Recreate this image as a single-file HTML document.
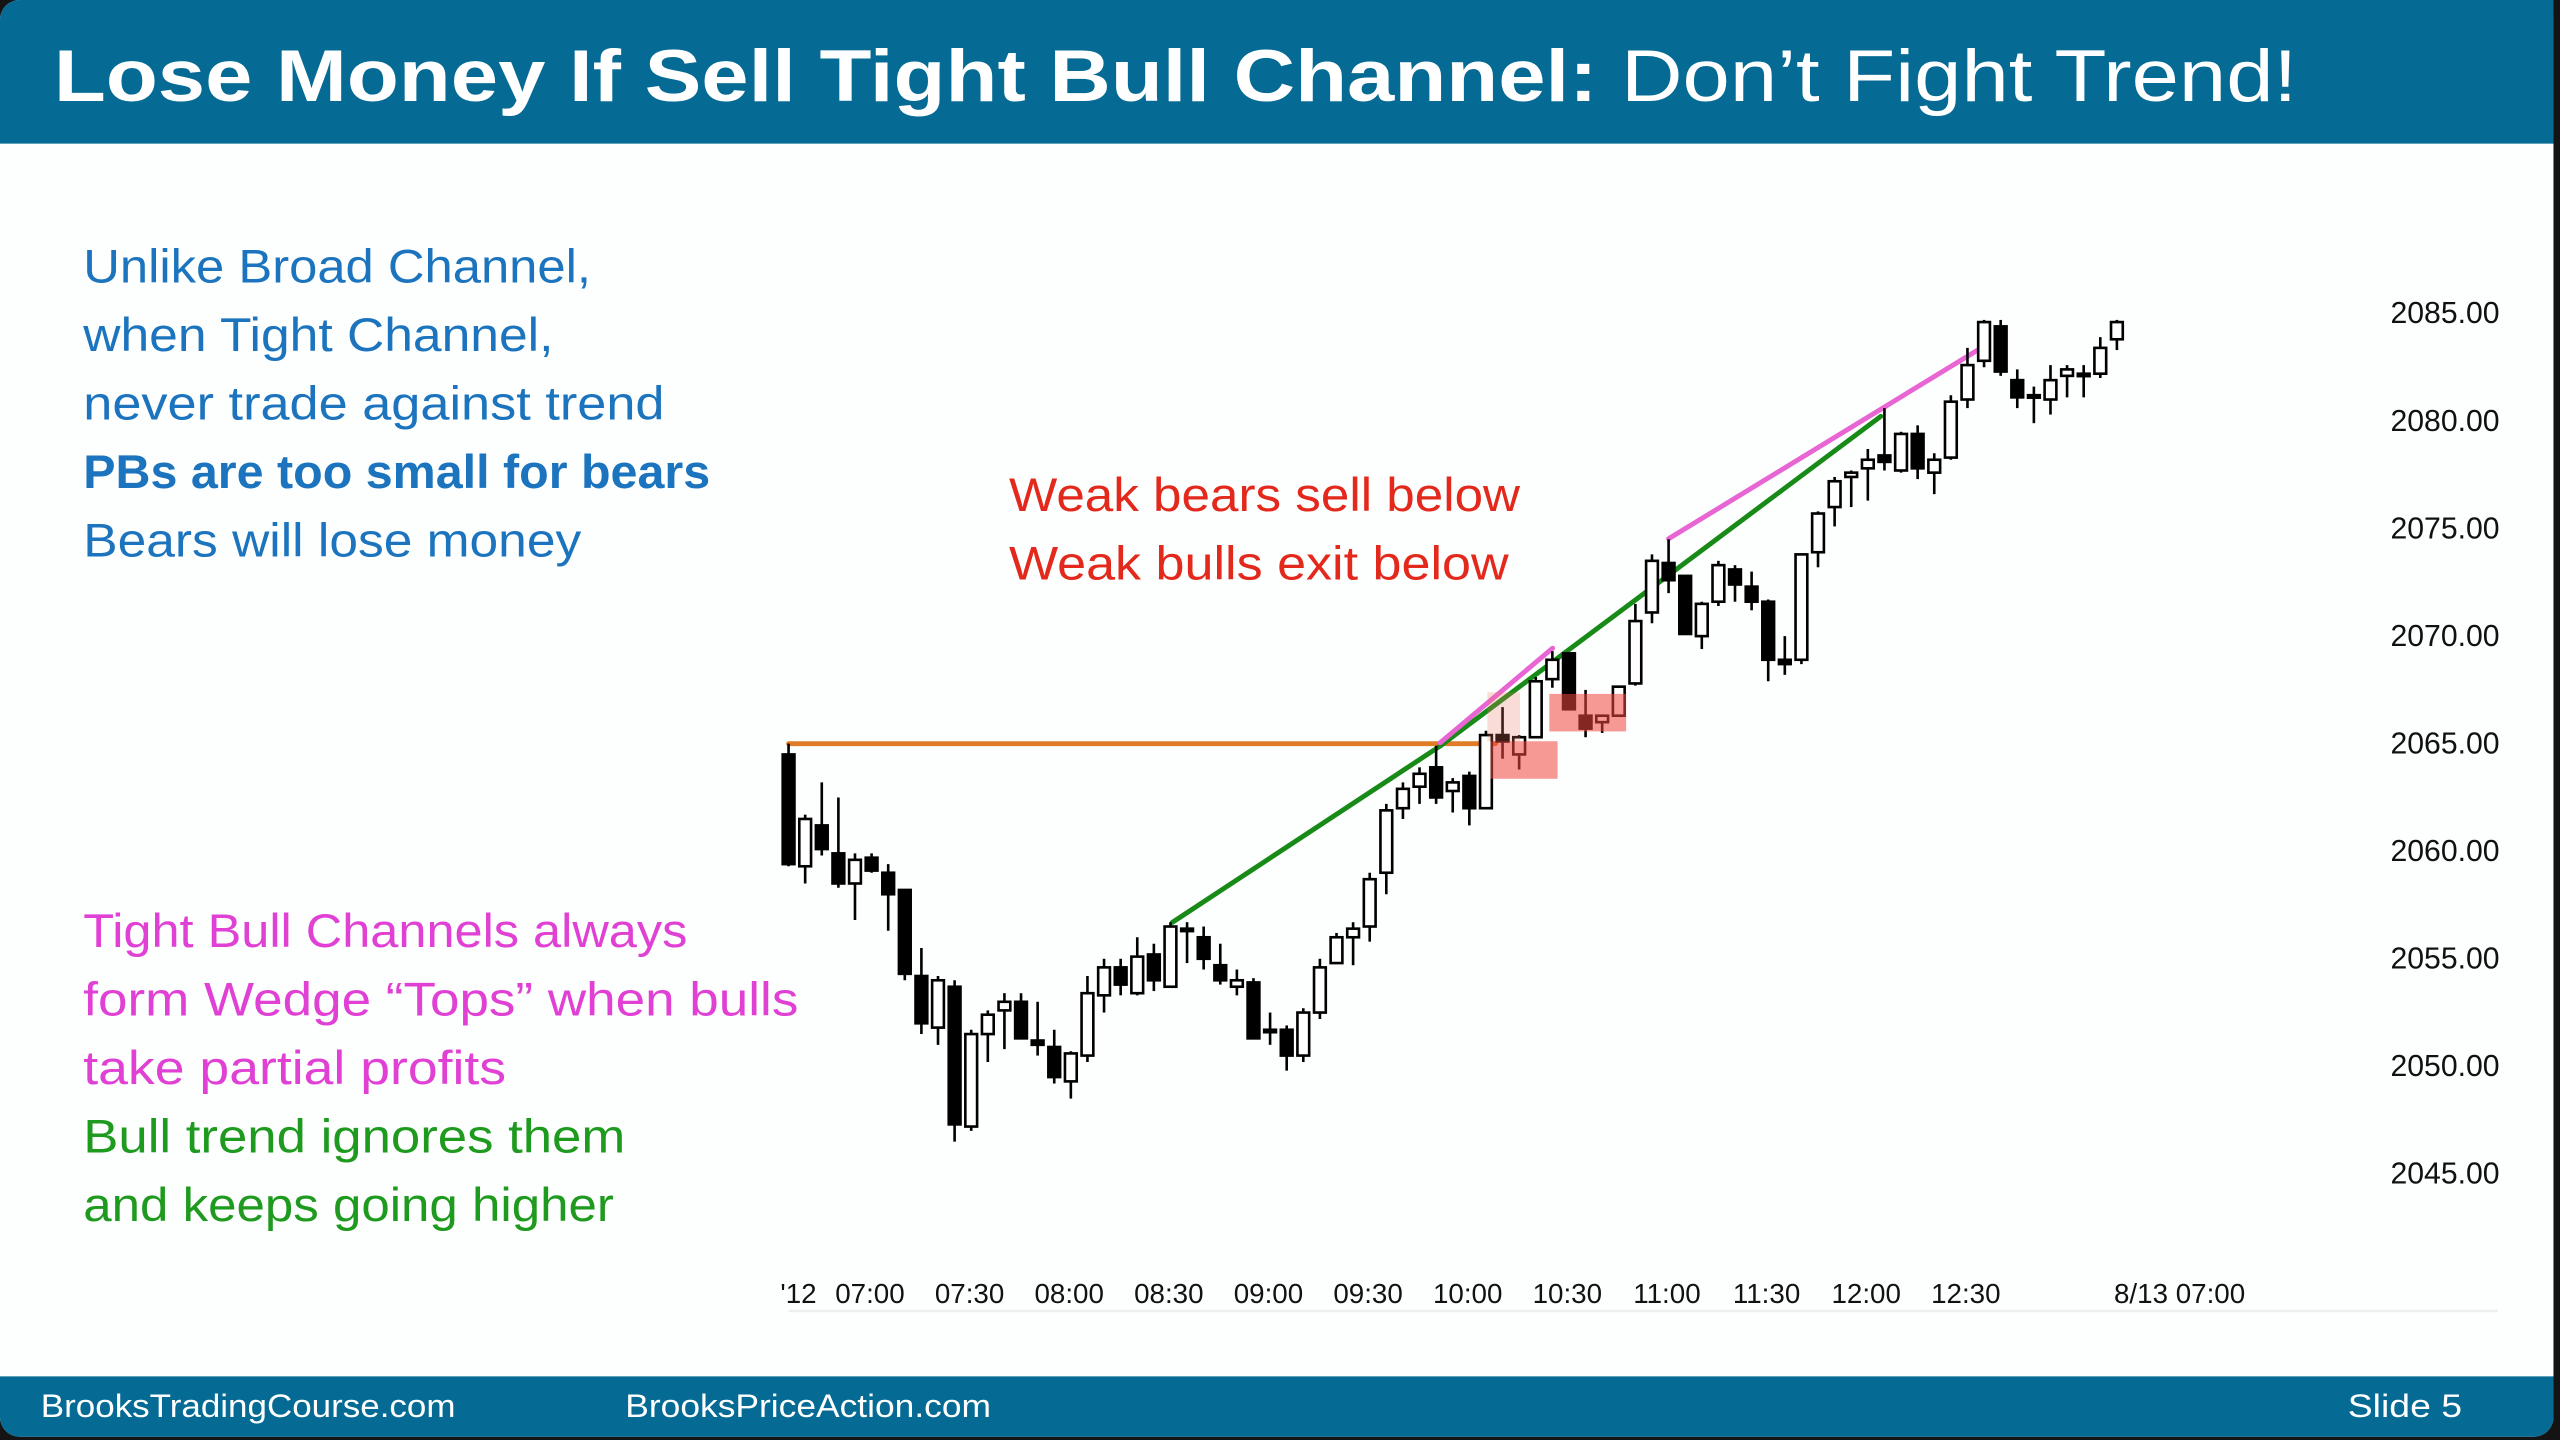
<!DOCTYPE html>
<html><head><meta charset="utf-8"><style>
html,body{margin:0;padding:0;background:#111;}
svg{display:block;}
</style></head><body>
<svg id="slide" width="2560" height="1440" viewBox="0 0 1568 882" xmlns="http://www.w3.org/2000/svg" font-family="'Liberation Sans', sans-serif">
<rect x="0" y="0" width="1568" height="882" fill="#141414"/>
<rect x="0" y="0" width="1564" height="880" rx="12" fill="#fdfefe"/>
<path d="M0,12 A12,12 0 0 1 12,0 L1564,0 L1564,88 L0,88 Z" fill="#056a94"/>
<text x="33" y="62" font-size="45" fill="#fff" textLength="1374" lengthAdjust="spacingAndGlyphs"><tspan font-weight="bold">Lose Money If Sell Tight Bull Channel:</tspan> Don’t Fight Trend!</text>
<path d="M0,843 L1564,843 L1564,868 A12,12 0 0 1 1552,880 L12,880 A12,12 0 0 1 0,868 Z" fill="#056a94"/>
<text x="25" y="868" font-size="20" fill="#fff" textLength="254" lengthAdjust="spacingAndGlyphs">BrooksTradingCourse.com</text>
<text x="383" y="868" font-size="20" fill="#fff" textLength="224" lengthAdjust="spacingAndGlyphs">BrooksPriceAction.com</text>
<text x="1438" y="868" font-size="20" fill="#fff" textLength="70" lengthAdjust="spacingAndGlyphs">Slide  5</text>

<g font-size="29">
<text x="51" y="173" fill="#1b74bd" textLength="311" lengthAdjust="spacingAndGlyphs">Unlike Broad Channel,</text>
<text x="51" y="215" fill="#1b74bd" textLength="288" lengthAdjust="spacingAndGlyphs">when Tight Channel,</text>
<text x="51" y="257" fill="#1b74bd" textLength="356" lengthAdjust="spacingAndGlyphs">never trade against trend</text>
<text x="51" y="299" fill="#1b74bd" font-weight="bold" textLength="384" lengthAdjust="spacingAndGlyphs">PBs are too small for bears</text>
<text x="51" y="341" fill="#1b74bd" textLength="305" lengthAdjust="spacingAndGlyphs">Bears will lose money</text>
<text x="618" y="313" fill="#e3281c" textLength="313" lengthAdjust="spacingAndGlyphs">Weak bears sell below</text>
<text x="618" y="355" fill="#e3281c" textLength="306" lengthAdjust="spacingAndGlyphs">Weak bulls exit below</text>
<text x="51" y="580" fill="#e040d4" textLength="370" lengthAdjust="spacingAndGlyphs">Tight Bull Channels always</text>
<text x="51" y="622" fill="#e040d4" textLength="438" lengthAdjust="spacingAndGlyphs">form Wedge “Tops” when bulls</text>
<text x="51" y="664" fill="#e040d4" textLength="259" lengthAdjust="spacingAndGlyphs">take partial profits</text>
<text x="51" y="706" fill="#1e9a1e" textLength="332" lengthAdjust="spacingAndGlyphs">Bull trend ignores them</text>
<text x="51" y="748" fill="#1e9a1e" textLength="325" lengthAdjust="spacingAndGlyphs">and keeps going higher</text>
</g>
<line x1="483" y1="803" x2="1530" y2="803" stroke="#eeeeee" stroke-width="1.5"/>
<g id="chart"></g>
</svg>
<script>
const opens  = [2064.5,2059.3,2061.2,2059.9,2058.5,2059.7,2059.0,2058.2,2054.2,2051.8,2053.7,2047.2,2051.5,2052.6,2053.0,2051.2,2050.9,2049.3,2050.5,2053.3,2054.6,2053.4,2055.2,2053.7,2056.4,2056.0,2054.7,2053.7,2053.9,2051.7,2051.7,2050.5,2052.5,2054.8,2056.0,2056.5,2059.0,2062.0,2063.0,2063.9,2062.8,2063.5,2062.0,2065.4,2064.5,2065.3,2068.0,2069.2,2066.3,2066.0,2066.3,2067.8,2071.1,2073.4,2072.8,2070.0,2071.6,2073.1,2072.3,2071.6,2068.9,2068.9,2073.9,2076.0,2077.4,2077.8,2078.4,2077.7,2079.4,2077.6,2078.3,2081.0,2082.8,2084.4,2081.9,2081.2,2081.0,2082.1,2082.2,2082.2,2083.8];
const highs  = [2065.0,2061.7,2063.2,2062.5,2059.9,2059.9,2059.4,2058.2,2055.5,2054.2,2054.0,2051.7,2052.6,2053.4,2053.4,2053.0,2051.7,2050.7,2054.2,2055.0,2055.0,2056.0,2055.7,2056.7,2056.7,2056.5,2055.7,2054.5,2054.1,2052.5,2051.9,2052.7,2055.0,2056.2,2056.7,2059.0,2062.2,2063.2,2063.9,2064.9,2063.4,2063.7,2065.6,2066.7,2065.4,2068.1,2069.3,2069.2,2067.5,2066.3,2067.65,2071.5,2073.8,2074.5,2072.8,2071.6,2073.5,2073.3,2073.0,2071.7,2070.0,2073.8,2075.8,2077.4,2077.7,2078.7,2080.6,2079.5,2079.8,2078.5,2081.2,2083.4,2084.7,2084.7,2082.4,2081.6,2082.6,2082.6,2082.6,2083.9,2084.7];
const lows   = [2059.3,2058.5,2059.8,2058.3,2056.8,2059.0,2056.3,2054.0,2051.5,2051.0,2046.5,2047.0,2050.2,2050.8,2051.3,2050.5,2049.2,2048.5,2050.2,2052.5,2053.3,2053.3,2053.5,2053.7,2054.8,2054.5,2053.8,2053.3,2051.3,2051.0,2049.8,2050.2,2052.2,2054.8,2054.7,2055.8,2058.0,2061.5,2062.2,2062.2,2061.8,2061.2,2062.0,2064.3,2063.8,2065.3,2067.6,2066.6,2065.3,2065.5,2066.3,2067.7,2070.6,2072.0,2070.1,2069.4,2071.4,2071.6,2071.2,2067.9,2068.2,2068.7,2073.2,2075.1,2076.0,2076.3,2077.7,2077.6,2077.3,2076.6,2078.2,2080.6,2082.5,2082.1,2080.6,2079.9,2080.3,2081.1,2081.1,2082.0,2083.3];
const closes = [2059.4,2061.5,2060.1,2058.5,2059.6,2059.1,2058.0,2054.3,2052.0,2054.0,2047.3,2051.5,2052.4,2053.0,2051.3,2051.0,2049.5,2050.6,2053.4,2054.6,2053.8,2055.1,2054.0,2056.5,2056.3,2055.0,2054.0,2054.0,2051.3,2051.6,2050.5,2052.5,2054.6,2056.0,2056.4,2058.7,2061.9,2062.9,2063.6,2062.5,2063.2,2062.0,2065.4,2065.1,2065.3,2067.9,2068.9,2066.6,2065.7,2066.3,2067.65,2070.7,2073.5,2072.6,2070.1,2071.5,2073.3,2072.4,2071.6,2068.9,2068.7,2073.8,2075.7,2077.2,2077.6,2078.2,2078.1,2079.4,2077.8,2078.2,2080.9,2082.6,2084.6,2082.3,2081.1,2081.1,2081.9,2082.4,2082.2,2083.4,2084.6];
const yTicks = [2085,2080,2075,2070,2065,2060,2055,2050,2045];
const yTickLabels = ["2085.00","2080.00","2075.00","2070.00","2065.00","2060.00","2055.00","2050.00","2045.00"];
const xTickBars = [5,11,17,23,29,35,41,47,53,59,65,71];
const xTickLabels = ["07:00","07:30","08:00","08:30","09:00","09:30","10:00","10:30","11:00","11:30","12:00","12:30"];

const NS = "http://www.w3.org/2000/svg";
const chart = document.getElementById('chart');
function xScale(i){ return 483 + i*10.17; }
function yScale(p){ return 192 + (2085 - p)*13.175; }
function mk(tag, attrs){ const e=document.createElementNS(NS,tag); for(const k in attrs) e.setAttribute(k,attrs[k]); return e; }

yTicks.forEach((v,k)=>{
  const t = mk('text',{x:1531,y:yScale(v)+6,'font-size':18.5,'text-anchor':'end',fill:'#111'});
  
  
  t.textContent = yTickLabels[k];
  chart.appendChild(t);
});
xTickBars.forEach((b,k)=>{
  const t = mk('text',{x:xScale(b)-1,y:798,'font-size':17,'text-anchor':'middle',fill:'#111'});
  
  
  t.textContent = xTickLabels[k];
  chart.appendChild(t);
});
const pre = mk('text',{x:478,y:798,'font-size':17,fill:'#111'});


pre.textContent = "'12";
chart.appendChild(pre);
const nd = mk('text',{x:1335,y:798,'font-size':17,'text-anchor':'middle',fill:'#111'});


nd.textContent = "8/13 07:00";
chart.appendChild(nd);

function line(name,x1,y1,x2,y2,color,w){
  const l = mk('line',{x1:x1,y1:y1,x2:x2,y2:y2,stroke:color,'stroke-width':w,'stroke-linecap':'round'});
  
  
  chart.appendChild(l);
}
line('breakout-level-line', xScale(0), yScale(opens[0]+0.5), 916, yScale(opens[0]+0.5), '#e07b27', 3);
line('trend-channel-line-1', 718, 565, 882, 457, '#178a17', 3);
line('trend-channel-line-2', 882, 457, 1152, 255, '#178a17', 3);
line('wedge-line-1', 882, 455, 951, 397, '#e865d4', 3);
line('wedge-line-3', 1022, 330, 1212, 214, '#e865d4', 3);

for(let i=0;i<opens.length;i++){
  const x = xScale(i), o=opens[i], c=closes[i];
  const g = mk('g',{});
  
  
  const w = mk('line',{x1:x,y1:yScale(highs[i]),x2:x,y2:yScale(lows[i]),stroke:'#000','stroke-width':1.6});
  g.appendChild(w);
  const top = yScale(Math.max(o,c)), bot = yScale(Math.min(o,c));
  const bear = c < o;
  const r = mk('rect',{x:x-3.6,y:top,width:7.2,height:Math.max(bot-top,1.5),fill:bear?'#000':'#fff',stroke:'#000','stroke-width':1.6});
  g.appendChild(r);
  chart.appendChild(g);
}
function box(name,x,y,w,h,fill){
  const r = mk('rect',{x:x,y:y,width:w,height:h,fill:fill});
  
  
  chart.appendChild(r);
}
box('signal-bar-highlight', 911, 424, 20, 30, 'rgba(240,120,100,0.25)');
box('sell-zone-box-1', 913, 454, 41, 23, 'rgba(240,70,60,0.55)');
box('sell-zone-box-2', 949, 425, 47, 23, 'rgba(240,70,60,0.55)');
</script>
</body></html>
